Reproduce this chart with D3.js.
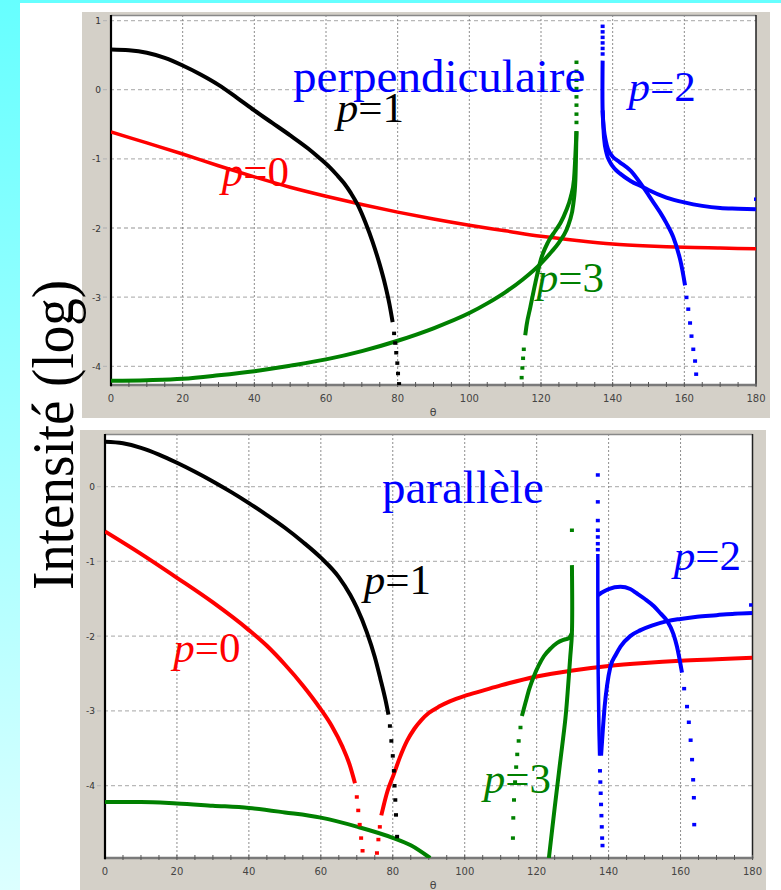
<!DOCTYPE html>
<html><head><meta charset="utf-8">
<script src="https://cdn.jsdelivr.net/npm/d3@7/dist/d3.min.js"></script>
<style>html,body{margin:0;padding:0;background:#fff;overflow:hidden}</style>
</head><body>
<script>
// ---------------- DATA ----------------
const thetaTicks = [0,20,40,60,80,100,120,140,160,180];
const thetaMinor = d3.range(0,181,5);
const yTicksTop = [1,0,-1,-2,-3,-4];
const yTicksBottom = [0,-1,-2,-3,-4];

// perpendiculaire (top)
const perpP0 = [[0,-0.61],[10,-0.77],[20,-0.93],[30,-1.1],[40,-1.26],[50,-1.41],[60,-1.54],[70,-1.66],[80,-1.77],[90,-1.87],[100,-1.96],[110,-2.04],[120,-2.12],[130,-2.18],[140,-2.23],[150,-2.26],[160,-2.28],[170,-2.29],[180,-2.3]];
const perpP1 = [[0,0.58],[5,0.57],[10,0.535],[15,0.46],[20,0.35],[25,0.22],[30,0.07],[35,-0.11],[40,-0.3],[45,-0.48],[50,-0.66],[55,-0.85],[58,-0.98],[61,-1.12],[63,-1.23],[65,-1.35],[67,-1.5],[69,-1.68],[71,-1.92],[73,-2.2],[75,-2.53],[76.5,-2.82],[77.7,-3.1],[78.6,-3.36]];
const perpP1Dots = [[79,-3.52],[79.3,-3.66],[79.6,-3.8],[79.9,-3.95],[80.1,-4.1],[80.4,-4.25]];
const perpP3 = [[0,-4.21],[10,-4.2],[20,-4.18],[30,-4.13],[40,-4.07],[50,-3.99],[60,-3.9],[70,-3.78],[80,-3.63],[90,-3.45],[100,-3.23],[105,-3.09],[110,-2.93],[115,-2.74],[120,-2.51],[123,-2.34],[125,-2.21],[127,-2.04],[128,-1.9],[129,-1.66],[129.6,-1.3],[129.9,-0.6]];
const perpP3Branch = [[115.6,-3.55],[116,-3.4],[117,-3.15],[118.4,-2.8],[120,-2.45],[122,-2.2],[124,-2.04],[125.5,-1.92],[127,-1.75],[128.3,-1.55],[129.2,-1.3],[129.9,-0.6]];
const perpP3Dots = [[114.6,-4.16],[114.8,-4.02],[115,-3.88],[115.2,-3.75],[129.9,-0.47],[129.9,-0.35],[129.9,-0.22],[129.9,-0.1],[129.9,0.02],[129.9,0.14],[129.9,0.27],[129.9,0.4]];
const perpP2A = [[137.2,0.42],[137.2,-0.3],[137.5,-0.55],[138,-0.72],[138.7,-0.86],[140,-0.97],[142,-1.05],[145,-1.17],[148.5,-1.41],[151,-1.6],[153.2,-1.77],[155,-1.93],[156.9,-2.13],[158.8,-2.45],[160.2,-2.83]];
const perpP2B = [[137.2,-0.3],[137.6,-0.7],[138.3,-0.92],[139.3,-1.05],[140.5,-1.14],[142,-1.21],[145,-1.32],[148.5,-1.41],[150,-1.45],[155,-1.56],[160,-1.63],[165,-1.68],[170,-1.71],[175,-1.72],[180,-1.73]];
const perpP2Dots = [[160.6,-3.0],[161.1,-3.17],[161.6,-3.37],[162,-3.56],[162.5,-3.75],[163,-3.92],[163.3,-4.11],[180,-1.58],[137.2,0.92],[137.2,0.84],[137.2,0.76],[137.2,0.68],[137.2,0.6],[137.2,0.52]];

// parallèle (bottom)
const paraP0Left = [[0,-0.6],[10,-0.9],[20,-1.22],[30,-1.55],[40,-1.92],[45,-2.13],[50,-2.38],[55,-2.66],[60,-2.98],[63,-3.2],[66,-3.48],[68,-3.72],[69.5,-3.97]];
const paraP0Right = [[76.8,-4.4],[77.4,-4.28],[78.5,-4.08],[80.2,-3.86],[82,-3.62],[84,-3.4],[86,-3.24],[88,-3.12],[90,-3.03],[93,-2.94],[96,-2.87],[100,-2.8],[105,-2.73],[110,-2.66],[120,-2.54],[130,-2.46],[140,-2.4],[150,-2.36],[160,-2.33],[170,-2.31],[180,-2.29]];
const paraP0Dots = [[70,-4.15],[70.4,-4.33],[70.8,-4.52],[71.2,-4.7],[71.6,-4.87],[75.6,-4.9],[76,-4.72],[76.4,-4.55]];
const paraP1 = [[0,0.6],[5,0.58],[10,0.52],[15,0.43],[20,0.32],[25,0.2],[30,0.07],[35,-0.07],[40,-0.22],[45,-0.38],[50,-0.55],[55,-0.74],[60,-0.95],[65,-1.21],[68.2,-1.45],[70,-1.62],[72.8,-1.95],[75,-2.28],[76.5,-2.56],[78,-2.86],[78.8,-3.05]];
const paraP1Dots = [[79.2,-3.2],[79.6,-3.4],[80,-3.6],[80.3,-3.8],[80.5,-4.0],[80.7,-4.19],[80.9,-4.39],[81.2,-4.68]];
const paraP3 = [[0,-4.22],[10,-4.22],[20,-4.24],[30,-4.27],[40,-4.3],[50,-4.36],[60,-4.43],[70,-4.55],[80,-4.7],[85,-4.8],[90.4,-4.97]];
const paraP3Branch = [[115.9,-3.07],[116.9,-2.89],[118,-2.7],[119.2,-2.54],[120.5,-2.4],[122,-2.27],[124,-2.16],[125.7,-2.09],[127.5,-2.05],[128.9,-2.03],[129.8,-1.96]];
const paraP3Steep = [[123.4,-4.97],[125,-4.3],[126.5,-3.7],[128,-3.1],[128.6,-2.76],[129.3,-2.3],[129.8,-1.96],[129.8,-1.05]];
const paraP3Dots = [[113.4,-4.7],[113.5,-4.43],[113.7,-4.19],[114,-3.95],[114.3,-3.75],[114.6,-3.58],[115,-3.4],[115.5,-3.22],[129.8,-0.58]];
const paraP2Vert = [[137.0,-0.9],[137.0,-1.45],[137.1,-2.5],[137.3,-3.2],[137.5,-3.6]];
const paraP2C = [[137.1,-1.45],[138,-1.42],[140,-1.37],[143.3,-1.34],[146,-1.37],[147.9,-1.43],[150,-1.5],[152.6,-1.6],[154.5,-1.7],[156.3,-1.8],[158,-1.97],[159,-2.14],[160.4,-2.49]];
const paraP2D = [[137.9,-3.6],[138.4,-3.25],[138.9,-2.94],[139.6,-2.65],[140.5,-2.41],[142,-2.25],[143.3,-2.14],[146,-2.0],[148.9,-1.92],[152,-1.86],[156.3,-1.8],[160,-1.77],[164.6,-1.74],[170,-1.72],[175,-1.7],[180,-1.69]];
const paraP2Dots = [[137.0,0.16],[137.0,-0.2],[137.0,-0.45],[137.0,-0.58],[137.0,-0.67],[137.0,-0.76],[137.0,-0.84],
  [161,-2.7],[161.8,-2.94],[162.3,-3.15],[162.8,-3.39],[163.2,-3.65],[163.5,-3.92],[163.7,-4.16],[163.8,-4.52],
  [137.6,-3.8],[137.7,-3.95],[137.8,-4.1],[137.9,-4.25],[138,-4.4],[138.1,-4.55],[138.2,-4.7],[138.3,-4.8],[179.6,-1.58]];

// text annotations [label, theta, value]
const perpTitle = ["perpendiculaire", 50.8, -0.04];
const paraTitle = ["parallèle", 77.0, -0.22];
const perpLabels = [["1",63.0,-0.47],["0",30.9,-1.39],["2",144.4,-0.16],["3",118.8,-2.93]];
const paraLabels = [["1",71.9,-1.43],["0",19.0,-2.34],["2",158.1,-1.12],["3",105.3,-4.10]];
const yAxisTitle = "Intensité (log)";

// ---------------- DRAWING ----------------
const W = 781, H = 890;
const svg = d3.select("body").append("svg").attr("width", W).attr("height", H);
const defs = svg.append("defs");
const grad = defs.append("linearGradient").attr("id","cy").attr("x1",0).attr("y1",0).attr("x2",0).attr("y2",1);
grad.append("stop").attr("offset","0%").attr("stop-color","#66ffff");
grad.append("stop").attr("offset","100%").attr("stop-color","#dcffff");
svg.append("rect").attr("width",W).attr("height",H).attr("fill","#fff");
svg.append("rect").attr("x",0).attr("y",0).attr("width",W).attr("height",3).attr("fill","#66ffff");
svg.append("rect").attr("x",0).attr("y",0).attr("width",20).attr("height",H).attr("fill","url(#cy)");

const COL = {p0:"#ff0000", p1:"#000000", p2:"#0000ff", p3:"#008000"};
const serif = "'Liberation Serif','Times New Roman',serif";

function panel(cfg) {
  const g = svg.append("g");
  g.append("rect").attr("x",cfg.frame[0]).attr("y",cfg.frame[1]).attr("width",cfg.frame[2]).attr("height",cfg.frame[3]).attr("fill","#d4d0c8");
  const x = d3.scaleLinear().domain([0,180]).range([cfg.px0, cfg.px1]);
  const y = d3.scaleLinear().domain(cfg.yDomain).range([cfg.py1, cfg.py0]);
  g.append("rect").attr("x",cfg.px0).attr("y",cfg.py0).attr("width",cfg.px1-cfg.px0).attr("height",cfg.py1-cfg.py0).attr("fill","#fff");
  // grid
  g.selectAll(".hg").data(cfg.yTicks).enter().append("line")
    .attr("x1",cfg.px0-8).attr("x2",cfg.px1).attr("y1",d=>y(d)).attr("y2",d=>y(d))
    .attr("stroke","#b8b8b8").attr("stroke-width",1.3).attr("stroke-dasharray","4,3");
  g.selectAll(".vg").data(thetaTicks.slice(1,-1)).enter().append("line")
    .attr("x1",d=>x(d)).attr("x2",d=>x(d)).attr("y1",cfg.py0).attr("y2",cfg.py1)
    .attr("stroke","#808080").attr("stroke-width",0.9).attr("stroke-dasharray","2,2");
  // borders
  g.append("line").attr("x1",cfg.px0).attr("x2",cfg.px1).attr("y1",cfg.py0+0.5).attr("y2",cfg.py0+0.5).attr("stroke","#888").attr("stroke-width",1.5);
  g.append("line").attr("x1",cfg.px1).attr("x2",cfg.px1).attr("y1",cfg.py0).attr("y2",cfg.py1).attr("stroke","#222").attr("stroke-width",1.5);
  g.append("line").attr("x1",cfg.px0).attr("x2",cfg.px1+1).attr("y1",cfg.py1).attr("y2",cfg.py1).attr("stroke","#7a7a7a").attr("stroke-width",2.5);
  g.selectAll(".mt").data(thetaMinor).enter().append("line")
    .attr("x1",d=>x(d)).attr("x2",d=>x(d)).attr("y1",cfg.py1-3).attr("y2",cfg.py1+2)
    .attr("stroke","#555").attr("stroke-width",1);
  g.append("line").attr("x1",cfg.px0).attr("x2",cfg.px0).attr("y1",cfg.py0).attr("y2",cfg.py1+1).attr("stroke","#000").attr("stroke-width",2.2);
  // tick labels
  g.selectAll(".yl").data(cfg.yTicks).enter().append("text")
    .attr("x",cfg.px0-10).attr("y",d=>y(d)+3.5).attr("text-anchor","end")
    .attr("font-family","'DejaVu Sans',sans-serif").attr("font-size",9).attr("fill","#333")
    .text(d=>d<0?"-"+(-d):String(d));
  g.selectAll(".xl").data(thetaTicks).enter().append("text")
    .attr("x",d=>x(d)).attr("y",cfg.py1+17).attr("text-anchor","middle")
    .attr("font-family","'DejaVu Sans',sans-serif").attr("font-size",10).attr("fill","#444")
    .text(d=>d);
  g.append("text").attr("x",433).attr("y",cfg.py1+31).attr("text-anchor","middle")
    .attr("font-family","'DejaVu Sans',sans-serif").attr("font-size",11).attr("fill","#444").text("θ");
  // curves
  const clipId = "clip"+cfg.id;
  defs.append("clipPath").attr("id",clipId).append("rect").attr("x",cfg.px0).attr("y",cfg.py0).attr("width",cfg.px1-cfg.px0).attr("height",cfg.py1-cfg.py0);
  const cg = g.append("g").attr("clip-path",`url(#${clipId})`);
  const lineMono = d3.line().x(d=>x(d[0])).y(d=>y(d[1])).curve(d3.curveMonotoneX);
  const lineCR = d3.line().x(d=>x(d[0])).y(d=>y(d[1])).curve(d3.curveCatmullRom.alpha(0.5));
  cfg.lines.forEach(([data,c,w]) => {
    const strict = data.every((d,i)=> i===0 || d[0] > data[i-1][0]);
    cg.append("path").datum(data).attr("d", strict ? lineMono : lineCR).attr("fill","none").attr("stroke",c)
      .attr("stroke-width",w).attr("stroke-linejoin","round").attr("stroke-linecap","butt");
  });
  cfg.dots.forEach(([data,c]) => {
    cg.selectAll(null).data(data).enter().append("rect")
      .attr("x",d=>x(d[0])-2).attr("y",d=>y(d[1])-1.5).attr("width",4).attr("height",3.5).attr("fill",c);
  });
  // titles & labels
  g.append("text").attr("x",x(cfg.title[1])).attr("y",y(cfg.title[2]))
    .attr("font-family",serif).attr("font-size",47).attr("fill",COL.p2).text(cfg.title[0]);
  cfg.labels.forEach(([n,t,v]) => {
    const tx = g.append("text").attr("x",x(t)).attr("y",y(v)).attr("font-family",serif).attr("font-size",43).attr("fill",COL["p"+n]);
    tx.append("tspan").attr("font-style","italic").text("p");
    tx.append("tspan").text("="+n);
  });
}

panel({id:"top", frame:[82,12,688,406], px0:111, px1:756, py0:15, py1:385, yDomain:[-4.27,1.08], yTicks:yTicksTop,
  lines:[[perpP0,COL.p0,3.5],[perpP3,COL.p3,4],[perpP3Branch,COL.p3,4],[perpP1,COL.p1,4],[perpP2A,COL.p2,4],[perpP2B,COL.p2,4]],
  dots:[[perpP1Dots,COL.p1],[perpP3Dots,COL.p3],[perpP2Dots,COL.p2]],
  title:perpTitle, labels:perpLabels});

panel({id:"bot", frame:[80,430,686,470], px0:105, px1:752.5, py0:434, py1:858, yDomain:[-4.97,0.705], yTicks:yTicksBottom,
  lines:[[paraP0Left,COL.p0,4],[paraP0Right,COL.p0,4],[paraP3,COL.p3,4],[paraP3Branch,COL.p3,4],[paraP3Steep,COL.p3,4],[paraP1,COL.p1,4],[paraP2Vert,COL.p2,3.5],[paraP2C,COL.p2,4],[paraP2D,COL.p2,4]],
  dots:[[paraP0Dots,COL.p0],[paraP1Dots,COL.p1],[paraP3Dots,COL.p3],[paraP2Dots,COL.p2]],
  title:paraTitle, labels:paraLabels});

// y axis title
svg.append("text").attr("transform","translate(73,435) rotate(-90)").attr("text-anchor","middle")
  .attr("font-family",serif).attr("font-size",60).attr("textLength",310).attr("lengthAdjust","spacingAndGlyphs")
  .attr("fill","#000").text(yAxisTitle);
</script>
</body></html>
